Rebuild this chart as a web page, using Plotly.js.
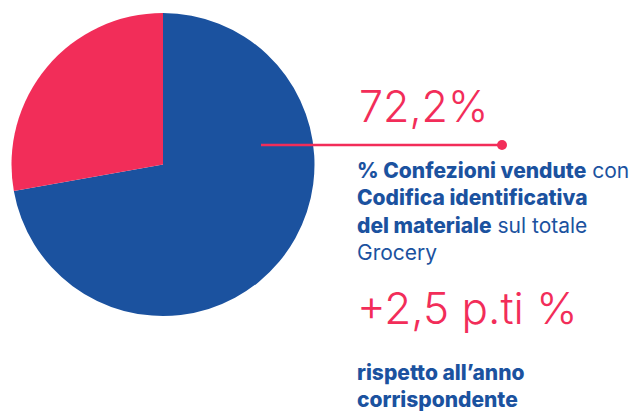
<!DOCTYPE html>
<html><head><meta charset="utf-8">
<script src="https://cdn.plot.ly/plotly-3.0.1.min.js"></script>
<style>html,body{margin:0;padding:0;background:#fff}#c{width:632px;height:411px}</style>
</head><body><div id="c"></div>
<script>
const labels = ["Con codifica", "Senza codifica"];
const values = [72.2, 27.8];
const colors = ["#1B529F", "#F22D59"];
const mainValue = "72,2%";
const deltaValue = "+2,5 p.ti %";
const B = s => '<span style="font-weight:800">' + s + '</span>';
const descText = B("% Confezioni vendute") + " con<br>" + B("Codifica identificativa") + "<br>" + B("del materiale") + " sul totale<br>Grocery";
const noteText = B("rispetto all’anno") + "<br>" + B("corrispondente");

const W = 632, H = 411;
const px = x => x / W, py = y => 1 - y / H;
const blue = colors[0], red = colors[1];

const data = [{
  type: "pie", labels: labels, values: values, sort: false, direction: "clockwise", rotation: 0,
  marker: {colors: colors, line: {width: 0}}, textinfo: "none", hoverinfo: "skip",
  domain: {x: [px(11.5), px(314.5)], y: [py(316), py(13)]}, showlegend: false
}];

const layout = {
  width: W, height: H, margin: {l: 0, r: 0, t: 0, b: 0},
  paper_bgcolor: "#fff", plot_bgcolor: "#fff", showlegend: false,
  shapes: [
    {type: "line", xref: "paper", yref: "paper", x0: px(261), x1: px(502), y0: py(145), y1: py(145),
     line: {color: red, width: 2.5}},
    {type: "circle", xref: "paper", yref: "paper", x0: px(497), x1: px(507), y0: py(140), y1: py(150),
     fillcolor: red, line: {width: 0}}
  ],
  annotations: [
    {text: mainValue, xref: "paper", yref: "paper", x: px(357), y: py(134), xanchor: "left", yanchor: "bottom",
     showarrow: false, font: {family: "Inter", size: 43, weight: 300, color: red}},
    {text: descText, xref: "paper", yref: "paper", x: px(355), y: py(156), xanchor: "left", yanchor: "top",
     align: "left", showarrow: false, font: {family: "Inter", size: 21, color: blue}},
    {text: deltaValue, xref: "paper", yref: "paper", x: px(355), y: py(337), xanchor: "left", yanchor: "bottom",
     showarrow: false, font: {family: "Inter", size: 44, weight: 300, color: red}},
    {text: noteText, xref: "paper", yref: "paper", x: px(355), y: py(358), xanchor: "left", yanchor: "top",
     align: "left", showarrow: false, font: {family: "Inter", size: 21, color: blue}}
  ]
};
Plotly.newPlot("c", data, layout, {staticPlot: true, displayModeBar: false});
</script></body></html>
